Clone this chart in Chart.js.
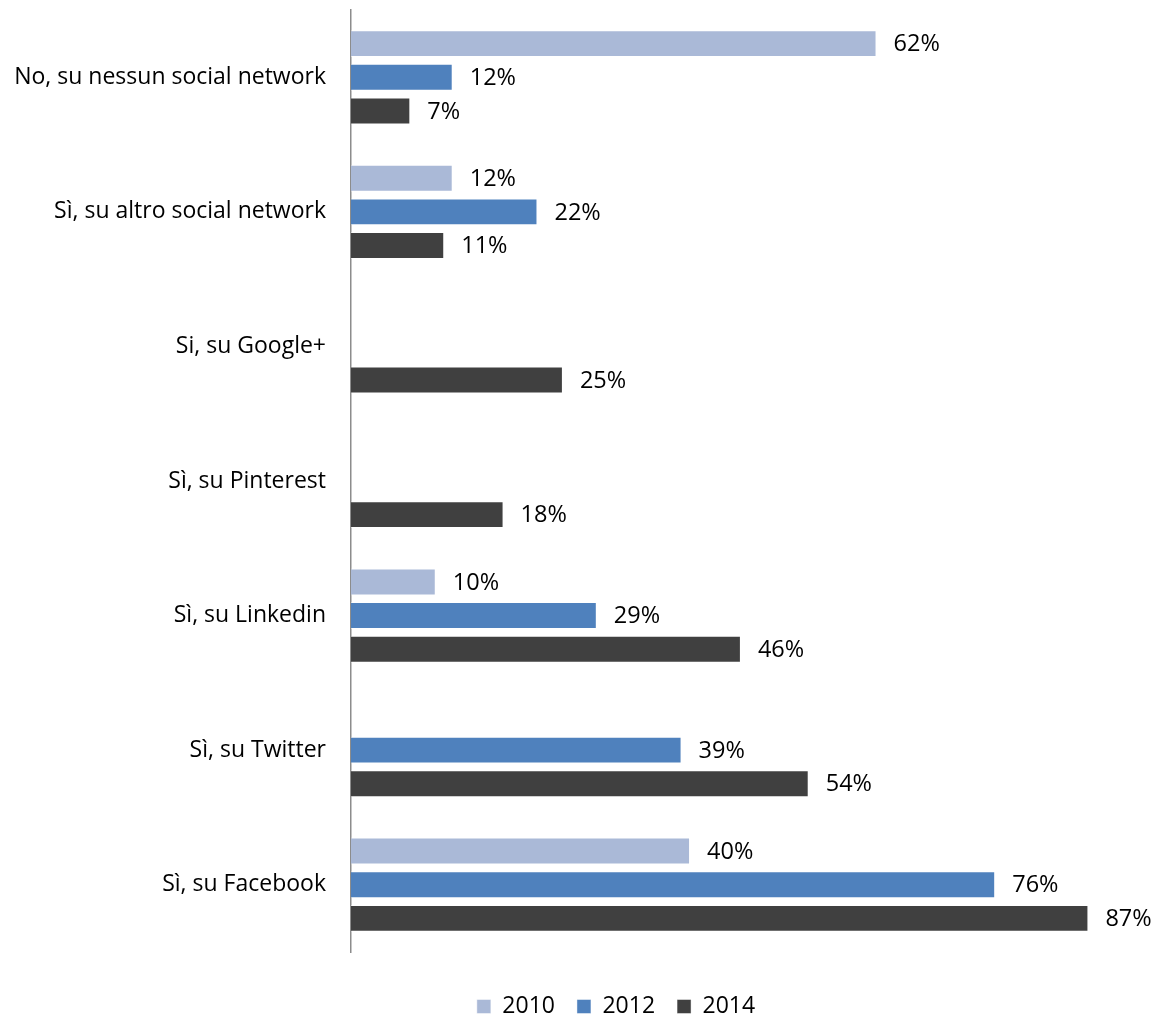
<!DOCTYPE html>
<html>
<head>
<meta charset="utf-8">
<script src="https://cdn.jsdelivr.net/npm/chart.js@4"></script>
<style>
  html, body { margin: 0; padding: 0; background: #fff; }
  #wrap { width: 1152px; height: 1016px; }
</style>
</head>
<body>
<div id="wrap"><canvas id="chartSocial"></canvas></div>
<script>
const categorie = [
    "No, su nessun social network",
    "Sì, su altro social network",
    "Si, su Google+",
    "Sì, su Pinterest",
    "Sì, su Linkedin",
    "Sì, su Twitter",
    "Sì, su Facebook"
];
const anni = ["2010", "2012", "2014"];
const valori2010 = [62, 12, null, null, 10, null, 40];
const valori2012 = [12, 22, null, null, 29, 39, 76];
const valori2014 = [7, 11, 25, 18, 46, 54, 87];

const colori = ['#aab9d7', '#4f81bd', '#404040'];
const font = "'Open Sans', sans-serif";

// etichette dei valori a destra della barra
const etichette = {
    id: 'etichette',
    afterDatasetsDraw(chart) {
        const ctx = chart.ctx;
        ctx.save();
        ctx.font = "23.5px " + font;
        ctx.fillStyle = '#000';
        ctx.textAlign = 'left';
        ctx.textBaseline = 'middle';
        chart.data.datasets.forEach((ds, i) => {
            chart.getDatasetMeta(i).data.forEach((bar, j) => {
                const v = ds.data[j];
                if (v === null) return;
                ctx.fillText(v + '%', bar.x + 17, bar.y + 1);
            });
        });
        ctx.restore();
    }
};

// sposta la legenda un po' a destra e in basso come nell'originale
const spostaLegenda = {
    id: 'spostaLegenda',
    afterLayout(chart) {
        const lg = chart.legend;
        lg.left += 40; lg.right += 40;
        lg.top += 21; lg.bottom += 21;
    }
};

const ctx = document.getElementById("chartSocial").getContext("2d");
const chart = new Chart(ctx, {
    type: 'bar',
    data: {
        labels: categorie,
        datasets: [valori2010, valori2012, valori2014].map((d, i) => ({
            label: anni[i],
            data: d,
            backgroundColor: colori[i],
            borderColor: 'rgba(255,255,255,0.45)',
            borderWidth: 1,
            categoryPercentage: 0.75,
            barPercentage: 0.8
        }))
    },
    options: {
        indexAxis: 'y',
        responsive: true,
        maintainAspectRatio: false,
        animation: false,
        layout: { padding: { top: 10, right: 0, bottom: 9, left: 0 } },
        scales: {
            x: {
                display: false,
                min: 0,
                max: 94.5
            },
            y: {
                afterFit: s => {
                    s.width = 351;
                    s.paddingTop = 0;
                    s.paddingBottom = 0;
                },
                grid: { display: false, drawTicks: false },
                border: { display: true, color: '#8c8c8c', width: 1.5 },
                ticks: {
                    color: '#000',
                    padding: 25,
                    font: { family: font, size: 23 }
                }
            }
        },
        plugins: {
            legend: {
                position: 'bottom',
                labels: {
                    color: '#000',
                    boxWidth: 14,
                    boxHeight: 14,
                    padding: 22,
                    font: { family: font, size: 23 }
                }
            },
            tooltip: { enabled: false }
        }
    },
    plugins: [etichette, spostaLegenda]
});
</script>
</body>
</html>
